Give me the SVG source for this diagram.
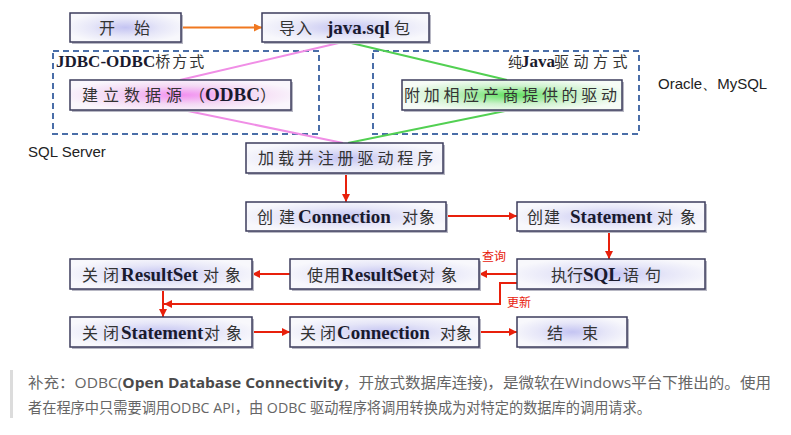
<svg xmlns="http://www.w3.org/2000/svg" width="791" height="435" viewBox="0 0 791 435">
<style>
.box{stroke:#3c3c5c;stroke-width:1.5}
.sh{fill:#b8b8c4}
.t{font-family:"Noto Sans CJK SC","Noto Sans CJK JP",sans-serif;font-size:16px;fill:#333}
.l{font-family:"Liberation Serif",serif;font-weight:bold;font-size:19px;fill:#1a1a2e;letter-spacing:0}
.dash{fill:none;stroke:#4a6ea8;stroke-width:2;stroke-dasharray:6 4}
.grp{font-family:"Noto Sans CJK SC",sans-serif;font-size:15px;fill:#333}
.gl{font-family:"Liberation Serif",serif;font-weight:bold;font-size:17px;fill:#1a1a2e}
.side{font-family:"Liberation Sans",Arial,sans-serif;font-size:15px;fill:#222}
.red{fill:none;stroke:#e8200c;stroke-width:2}
.lab{font-family:"Noto Sans CJK SC",sans-serif;font-size:12px;fill:#e8200c}
.note{font-family:"Open Sans","Noto Sans CJK SC",sans-serif;font-size:15px;fill:#666}
</style>
<defs>
<radialGradient id="gb" cx="0.5" cy="0.5" r="0.55">
<stop offset="0" stop-color="#c4c4f2"/><stop offset="0.55" stop-color="#e6e6f8"/><stop offset="1" stop-color="#f8f8fc"/>
</radialGradient>
<radialGradient id="gp" cx="0.5" cy="0.5" r="0.55">
<stop offset="0" stop-color="#f28ef0"/><stop offset="0.55" stop-color="#f4d8f4"/><stop offset="1" stop-color="#faf6fc"/>
</radialGradient>
<radialGradient id="gg" cx="0.5" cy="0.5" r="0.55">
<stop offset="0" stop-color="#5fe05f"/><stop offset="0.55" stop-color="#cdf2cd"/><stop offset="1" stop-color="#f6fcf6"/>
</radialGradient>
<marker id="ar" viewBox="0 0 10 10" refX="10" refY="5" markerWidth="8" markerHeight="8" markerUnits="userSpaceOnUse" orient="auto">
<path d="M0,0 L10,5 L0,10 z" fill="#e8200c"/>
</marker>
<marker id="ao" viewBox="0 0 10 10" refX="10" refY="5" markerWidth="8" markerHeight="8" markerUnits="userSpaceOnUse" orient="auto">
<path d="M0,0 L10,5 L0,10 z" fill="#f07820"/>
</marker>
</defs>
<rect width="791" height="435" fill="#ffffff"/>

<g id="group-jdbc-odbc">
<rect class="dash" x="53" y="51" width="266" height="83"/>
<text class="grp" x="56" y="67"><tspan class="gl">JDBC-ODBC</tspan><tspan letter-spacing="2">桥方式</tspan></text>
</g>
<g id="group-pure-java">
<rect class="dash" x="373" y="51" width="266" height="83"/>
<text class="grp" x="508" y="67"><tspan font-size="14px">纯</tspan><tspan class="gl" x="521">Java</tspan><tspan x="554" letter-spacing="4.5">驱动方式</tspan></text>
</g>
<text class="side" x="28" y="157">SQL Server</text>
<text class="side" x="658" y="89">Oracle、MySQL</text>

<g id="connectors">
<path d="M181,27.5 H262" fill="none" stroke="#f07820" stroke-width="2" marker-end="url(#ao)"/>
<path d="M343,42 L180,80" fill="none" stroke="#f08ee6" stroke-width="2"/>
<path d="M183,110 L343,143" fill="none" stroke="#f08ee6" stroke-width="2"/>
<path d="M347,42 L507,80" fill="none" stroke="#52d052" stroke-width="2"/>
<path d="M510,110 L348,143" fill="none" stroke="#52d052" stroke-width="2"/>
<path class="red" d="M346,173 V202" marker-end="url(#ar)"/>
<path class="red" d="M446,216 H517" marker-end="url(#ar)"/>
<path class="red" d="M609,231 V259" marker-end="url(#ar)"/>
<path class="red" d="M517,274 H479" marker-end="url(#ar)"/>
<path class="red" d="M517,283 H500 V304 H164" marker-end="url(#ar)"/>
<path class="red" d="M163,289 V317" marker-end="url(#ar)"/>
<path class="red" d="M290,274 H252" marker-end="url(#ar)"/>
<path class="red" d="M252,332 H290" marker-end="url(#ar)"/>
<path class="red" d="M479,332 H517" marker-end="url(#ar)"/>
<text class="lab" x="482" y="261">查询</text>
<text class="lab" x="507" y="307">更新</text>
</g>

<g id="n-start">
<rect class="sh" x="72" y="15" width="111" height="29"/>
<rect class="box" x="70" y="13" width="111" height="29" fill="url(#gb)"/>
<text class="t" x="99" y="34">开<tspan x="134">始</tspan></text>
</g>
<g id="n-import">
<rect class="sh" x="264" y="15" width="167" height="29"/>
<rect class="box" x="262" y="13" width="167" height="29" fill="url(#gb)"/>
<text class="t" x="279" y="34"><tspan letter-spacing="1">导入</tspan> <tspan class="l" x="327" font-size="20px">java.sql</tspan><tspan x="394">包</tspan></text>
</g>
<g id="n-odbc">
<rect class="sh" x="72" y="82" width="221" height="30"/>
<rect class="box" x="70" y="80" width="221" height="30" fill="url(#gp)"/>
<text class="t" x="82" y="101"><tspan letter-spacing="5">建立数据源</tspan><tspan x="189">（</tspan><tspan class="l" x="205">ODBC</tspan><tspan x="260">）</tspan></text>
</g>
<g id="n-vendor">
<rect class="sh" x="404" y="82" width="220" height="30"/>
<rect class="box" x="402" y="80" width="220" height="30" fill="url(#gg)"/>
<text class="t" x="404" y="101" letter-spacing="3.7">附加相应产商提供的驱动</text>
</g>
<g id="n-load">
<rect class="sh" x="248" y="145" width="197" height="30"/>
<rect class="box" x="246" y="143" width="197" height="30" fill="url(#gb)"/>
<text class="t" x="258" y="164" letter-spacing="3.9">加载并注册驱动程序</text>
</g>
<g id="n-conn">
<rect class="sh" x="248" y="204" width="200" height="29"/>
<rect class="box" x="246" y="202" width="200" height="29" fill="url(#gb)"/>
<text class="t" x="257" y="223"><tspan letter-spacing="6">创建</tspan><tspan class="l" x="298" font-size="18px">Connection</tspan> <tspan x="402" letter-spacing="1">对象</tspan></text>
</g>
<g id="n-stmt">
<rect class="sh" x="519" y="204" width="188" height="29"/>
<rect class="box" x="517" y="202" width="188" height="29" fill="url(#gb)"/>
<text class="t" x="527" y="223"><tspan letter-spacing="1">创建</tspan> <tspan class="l" x="570">Statement</tspan> <tspan x="657" letter-spacing="7">对象</tspan></text>
</g>
<g id="n-exec">
<rect class="sh" x="519" y="261" width="188" height="30"/>
<rect class="box" x="517" y="259" width="188" height="30" fill="url(#gb)"/>
<text class="t" x="551" y="281">执行<tspan class="l" x="583">SQL</tspan><tspan x="623" letter-spacing="6">语句</tspan></text>
</g>
<g id="n-use-rs">
<rect class="sh" x="292" y="261" width="189" height="30"/>
<rect class="box" x="290" y="259" width="189" height="30" fill="url(#gb)"/>
<text class="t" x="307" y="281"><tspan letter-spacing="1">使用</tspan><tspan class="l" x="341">ResultSet</tspan><tspan x="419" letter-spacing="6">对象</tspan></text>
</g>
<g id="n-close-rs">
<rect class="sh" x="72" y="261" width="182" height="30"/>
<rect class="box" x="70" y="259" width="182" height="30" fill="url(#gb)"/>
<text class="t" x="82" y="281"><tspan letter-spacing="5">关闭</tspan><tspan class="l" x="121">ResultSet</tspan> <tspan x="203" letter-spacing="6">对象</tspan></text>
</g>
<g id="n-close-stmt">
<rect class="sh" x="72" y="319" width="182" height="30"/>
<rect class="box" x="70" y="317" width="182" height="30" fill="url(#gb)"/>
<text class="t" x="82" y="339"><tspan letter-spacing="5">关闭</tspan><tspan class="l" x="121">Statement</tspan><tspan x="204" letter-spacing="6">对象</tspan></text>
</g>
<g id="n-close-conn">
<rect class="sh" x="292" y="319" width="189" height="30"/>
<rect class="box" x="290" y="317" width="189" height="30" fill="url(#gb)"/>
<text class="t" x="300" y="339"><tspan letter-spacing="4">关闭</tspan><tspan class="l" x="337" font-size="18.5px">Connection</tspan><tspan x="440" letter-spacing="0">对象</tspan></text>
</g>
<g id="n-end">
<rect class="sh" x="519" y="319" width="110" height="30"/>
<rect class="box" x="517" y="317" width="110" height="30" fill="url(#gb)"/>
<text class="t" x="547" y="339">结<tspan x="582">束</tspan></text>
</g>

<g id="note">
<rect x="10" y="370" width="3" height="48" fill="#dcdcdc"/>
<text class="note" x="28" y="388" textLength="743" lengthAdjust="spacingAndGlyphs">补充：ODBC(<tspan font-weight="bold" fill="#4a4a4a">Open Database Connectivity</tspan>，开放式数据库连接)，是微软在Windows平台下推出的。使用</text>
<text class="note" x="28" y="413" textLength="623" lengthAdjust="spacingAndGlyphs">者在程序中只需要调用ODBC API，由 ODBC 驱动程序将调用转换成为对特定的数据库的调用请求。</text>
</g>
</svg>
